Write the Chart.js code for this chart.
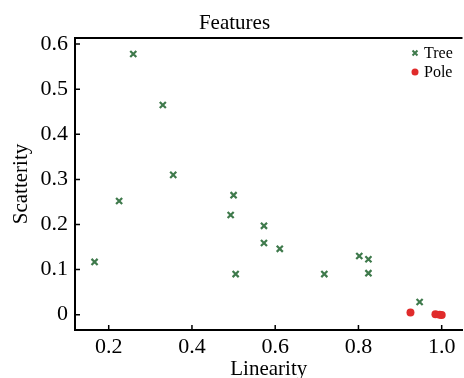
<!DOCTYPE html>
<html>
<head>
<meta charset="utf-8">
<script src="https://cdn.jsdelivr.net/npm/chart.js@4/dist/chart.umd.min.js"></script>
<style>
  html, body { margin: 0; padding: 0; background: #fff; overflow: hidden; }
  #wrap { width: 469px; height: 378px; }
</style>
</head>
<body>
<div id="wrap"><canvas id="chart" width="469" height="378"></canvas></div>
<script>
// ─── DONNÉES ──────────────────────────────────────────────────────────────
const treeX = [0.166, 0.225, 0.259, 0.330, 0.355, 0.500, 0.493, 0.573, 0.573, 0.611, 0.505, 0.718, 0.802, 0.824, 0.824, 0.947];
const treeY = [0.117, 0.252, 0.578, 0.465, 0.310, 0.265, 0.221, 0.197, 0.159, 0.146, 0.090, 0.090, 0.130, 0.123, 0.092, 0.028];
const poleX = [0.925, 0.985, 0.995, 1.000];
const poleY = [0.005, 0.001, 0.000, -0.001];
const xTicks = [0.2, 0.4, 0.6, 0.8, 1.0];
const yTicks = [0, 0.1, 0.2, 0.3, 0.4, 0.5, 0.6];

const SERIF = "'Liberation Serif', 'DejaVu Serif', serif";
const GREEN = '#3f7a4c';
const RED = '#e02b2b';

const toPoints = (xs, ys) => xs.map((x, i) => ({ x: x, y: ys[i] }));

// ticks vers l'intérieur + cadre haut
const innerTicks = {
    id: 'innerTicks',
    afterDraw(chart) {
        const { ctx, chartArea } = chart;
        const xs = chart.scales.x, ys = chart.scales.y;
        ctx.save();
        ctx.strokeStyle = '#000';
        ctx.lineWidth = 1.5;
        ctx.beginPath();
        xTicks.forEach(v => {
            const px = xs.getPixelForValue(v);
            ctx.moveTo(px, chartArea.bottom);
            ctx.lineTo(px, chartArea.bottom - 5);
        });
        yTicks.forEach(v => {
            const py = ys.getPixelForValue(v);
            ctx.moveTo(chartArea.left, py);
            ctx.lineTo(chartArea.left + 5, py);
        });
        ctx.stroke();
        ctx.lineWidth = 2;
        ctx.beginPath();
        ctx.moveTo(chartArea.left, chartArea.top);
        ctx.lineTo(chartArea.right, chartArea.top);
        ctx.stroke();
        ctx.restore();
    }
};

// légende dans le coin haut droit
const cornerLegend = {
    id: 'cornerLegend',
    afterDraw(chart) {
        const { ctx, chartArea } = chart;
        const x0 = chartArea.left + 340;
        let y = chartArea.top + 15;
        ctx.save();
        ctx.font = '16px ' + SERIF;
        ctx.textBaseline = 'middle';
        chart.data.datasets.forEach(ds => {
            const isCircle = ds.pointStyle === 'circle';
            ctx.strokeStyle = ds.borderColor;
            ctx.fillStyle = ds.backgroundColor;
            ctx.lineWidth = 2;
            Chart.helpers.drawPoint(ctx, {
                pointStyle: ds.pointStyle,
                radius: isCircle ? 3.5 : 3.5,
                borderWidth: isCircle ? 0 : 2,
                rotation: 0
            }, x0, y);
            ctx.fillStyle = '#000';
            ctx.fillText(ds.label, x0 + 9, y + 1);
            y += 19;
        });
        ctx.restore();
    }
};

new Chart(document.getElementById('chart').getContext('2d'), {
    type: 'scatter',
    data: {
        datasets: [{
            label: 'Tree',
            data: toPoints(treeX, treeY),
            pointStyle: 'crossRot',
            pointRadius: 4.3,
            borderColor: GREEN,
            backgroundColor: GREEN,
            borderWidth: 2.2
        }, {
            label: 'Pole',
            data: toPoints(poleX, poleY),
            pointStyle: 'circle',
            pointRadius: 4,
            borderColor: RED,
            backgroundColor: RED,
            borderWidth: 0
        }]
    },
    options: {
        responsive: false,
        animation: false,
        layout: { padding: 0 },
        scales: {
            x: {
                type: 'linear',
                min: 0.119, max: 1.05,
                afterFit: s => { s.height = 48; },
                afterBuildTicks: s => { s.ticks = xTicks.map(v => ({ value: v })); },
                grid: { display: false, drawTicks: false },
                border: { display: true, color: '#000', width: 2 },
                ticks: {
                    padding: 4,
                    color: '#000',
                    font: { family: SERIF, size: 22 },
                    callback: v => v.toFixed(1)
                },
                title: {
                    display: true, text: 'Linearity', color: '#000',
                    font: { family: SERIF, size: 21, lineHeight: 1 },
                    padding: { top: 0, bottom: -2 }
                }
            },
            y: {
                type: 'linear',
                min: -0.034, max: 0.6135,
                afterFit: s => { s.width = 75; },
                afterBuildTicks: s => { s.ticks = yTicks.map(v => ({ value: v })); },
                grid: { display: false, drawTicks: false },
                border: { display: true, color: '#000', width: 2 },
                ticks: {
                    padding: 7,
                    color: '#000',
                    font: { family: SERIF, size: 22 },
                    callback: v => (v === 0 ? '0' : v.toFixed(1))
                },
                title: {
                    display: true, text: 'Scatterity', color: '#000',
                    font: { family: SERIF, size: 21, lineHeight: 1 },
                    padding: { top: 11, bottom: 0 }
                }
            }
        },
        plugins: {
            title: {
                display: true, text: 'Features', color: '#000',
                font: { family: SERIF, size: 21, weight: 'normal', lineHeight: 1 },
                padding: { top: 13, bottom: 4 }
            },
            legend: { display: false },
            tooltip: { enabled: false }
        }
    },
    plugins: [innerTicks, cornerLegend]
});
</script>
</body>
</html>
